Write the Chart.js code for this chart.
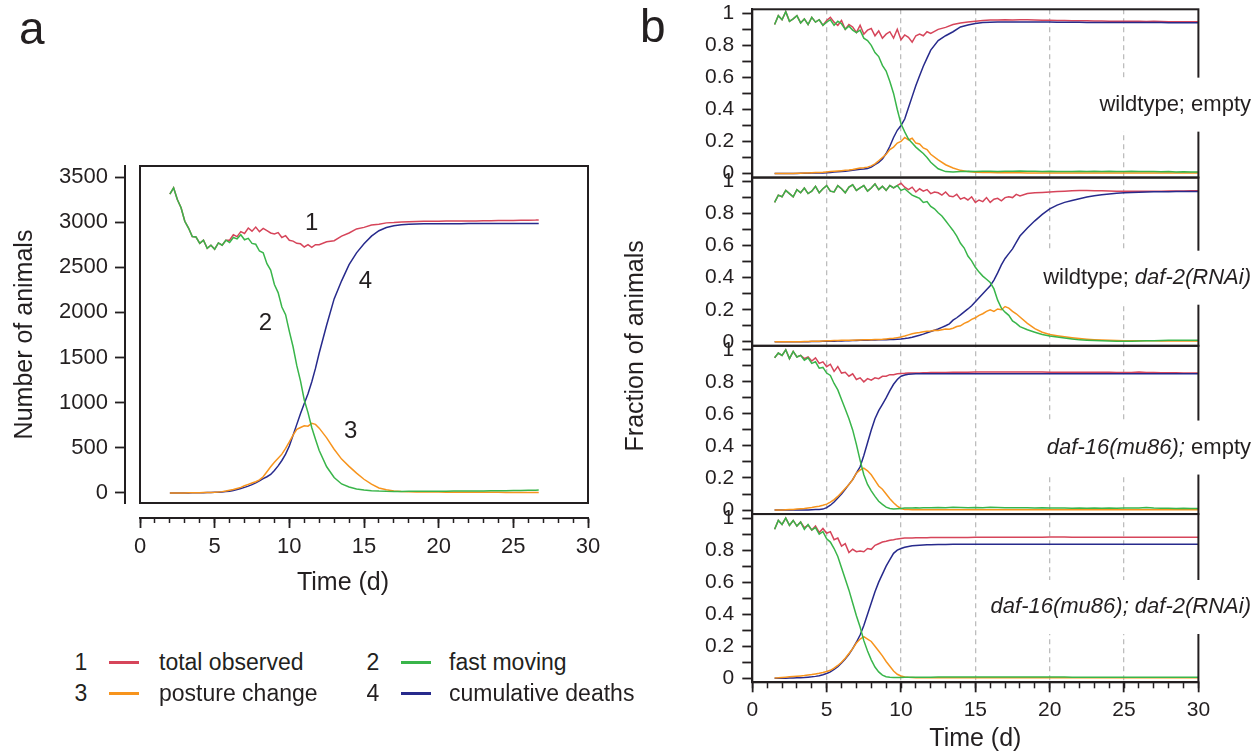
<!DOCTYPE html>
<html>
<head>
<meta charset="utf-8">
<script src="https://cdn.jsdelivr.net/npm/chart.js@4.4.1/dist/chart.umd.min.js"></script>
<style>
  body { margin: 0; background: #fff; width: 1260px; height: 755px; position: relative; overflow: hidden;
         font-family: "Liberation Sans", Arial, Helvetica, sans-serif; color: #231f20; }
  canvas { position: absolute; }
  #chartA { left: 0; top: 0; }
  #chartB { left: 600px; top: 0; }
  .tag { position: absolute; font-size: 46px; line-height: 1; }
  .lg { position: absolute; font-size: 23px; line-height: 30px; white-space: nowrap; }
  .num { width: 16px; text-align: center; }
  .sw { position: absolute; width: 30px; height: 3px; }
</style>
</head>
<body>
<canvas id="chartA" width="620" height="620"></canvas>
<canvas id="chartB" width="660" height="755"></canvas>

<div class="tag" style="left:19px; top:5px;">a</div>
<div class="tag" style="left:640px; top:3px;">b</div>

<div class="lg num" style="left:73px; top:647px;">1</div>
<div class="sw" style="left:109px; top:661px; background:#d6455a;"></div>
<div class="lg" style="left:159px; top:647px;">total observed</div>
<div class="lg num" style="left:365px; top:647px;">2</div>
<div class="sw" style="left:401px; top:661px; background:#39b54a;"></div>
<div class="lg" style="left:449px; top:647px;">fast moving</div>
<div class="lg num" style="left:73px; top:678px;">3</div>
<div class="sw" style="left:109px; top:692px; background:#f7941d;"></div>
<div class="lg" style="left:159px; top:678px;">posture change</div>
<div class="lg num" style="left:365px; top:678px;">4</div>
<div class="sw" style="left:401px; top:692px; background:#272a8c;"></div>
<div class="lg" style="left:449px; top:678px;">cumulative deaths</div>

<script>
// ---- panel a: counts ----
const tA = [
  2, 2.25, 2.5, 2.75, 3, 3.25, 3.5, 3.75,
  4, 4.25, 4.5, 4.75, 5, 5.25, 5.5, 5.75,
  6, 6.25, 6.5, 6.75, 7, 7.25, 7.5, 7.75,
  8, 8.25, 8.5, 8.75, 9, 9.25, 9.5, 9.75,
  10, 10.25, 10.5, 10.75, 11, 11.25, 11.5, 11.75,
  12, 12.5, 13, 13.5, 14, 14.5, 15, 15.5,
  16, 16.5, 17, 17.5, 18, 18.5, 19, 19.5,
  20, 20.5, 21, 21.5, 22, 22.5, 23, 23.5,
  24, 24.5, 25, 25.5, 26, 26.5, 26.7
];
const totalA = [
  3310, 3380, 3250, 3160, 3010, 2935, 2840, 2835,
  2765, 2800, 2710, 2745, 2700, 2770, 2745, 2800,
  2800, 2860, 2840, 2895, 2875, 2935, 2900, 2945,
  2895, 2930, 2905, 2880, 2870, 2885, 2830, 2850,
  2800, 2790, 2765, 2760, 2725, 2750, 2720, 2750,
  2750, 2782, 2795, 2845, 2880, 2925, 2942, 2968,
  2978, 2992, 2995, 3003, 3005, 3008, 3010, 3010,
  3011, 3012, 3012, 3013, 3013, 3014, 3015, 3016,
  3017, 3018, 3019, 3020, 3021, 3023, 3025
];
const fastA = [
  3310, 3380, 3250, 3160, 3010, 2935, 2840, 2835,
  2765, 2800, 2710, 2745, 2700, 2770, 2745, 2800,
  2775, 2830, 2815, 2860, 2805, 2820, 2765, 2755,
  2680, 2660, 2540, 2470, 2310, 2220, 2060, 1975,
  1790, 1620, 1410, 1240, 1030, 890, 725, 595,
  470, 290, 172, 100, 66, 45, 33, 26,
  21, 18, 17, 17, 18, 18, 19, 19,
  20, 20, 21, 21, 22, 23, 23, 24,
  25, 26, 27, 28, 29, 31, 32
];
const postureA = [
  0, 0, 1, 1, 1, 2, 2, 3,
  3, 4, 5, 6, 8, 11, 15, 22,
  30, 38, 50, 62, 80, 95, 110, 125,
  145, 180, 235, 290, 340, 385, 430, 495,
  565, 640, 705, 725, 745, 740, 772, 760,
  718, 610, 485, 375, 295, 220, 152, 97,
  55, 35, 22, 16, 13, 12, 11, 10,
  10, 9, 9, 8, 8, 8, 7, 7,
  7, 6, 6, 6, 6, 6, 6
];
const deathsA = [
  0, 0, 0, 1, 1, 1, 2, 2,
  3, 3, 4, 5, 7, 9, 12, 16,
  20, 28, 38, 50, 62, 76, 92, 112,
  135, 158, 180, 205, 250, 300, 360, 430,
  520, 640, 760, 880, 990, 1100, 1230, 1380,
  1550, 1860, 2150, 2350, 2530, 2660, 2760, 2845,
  2905, 2940, 2960, 2972, 2977, 2980, 2981, 2982,
  2982, 2983, 2983, 2983, 2984, 2984, 2984, 2984,
  2985, 2985, 2985, 2985, 2985, 2985, 2985
];
const countTicks = [0, 500, 1000, 1500, 2000, 2500, 3000, 3500];
const dayTicks = [0, 5, 10, 15, 20, 25, 30];
const dayMinorTicks = [0, 1, 2, 3, 4, 5, 6, 7, 8, 9, 10, 11, 12, 13, 14, 15,
  16, 17, 18, 19, 20, 21, 22, 23, 24, 25, 26, 27, 28, 29, 30];
const curveTags = ['1', '2', '3', '4'];
const tagDays = [11.5, 8.4, 14.1, 15.1];
const tagCounts = [2985, 1875, 680, 2340];

// ---- panel b: fractions ----
const tB = [
  1.5, 1.75, 2, 2.25, 2.5, 2.75, 3, 3.25,
  3.5, 3.75, 4, 4.25, 4.5, 4.75, 5, 5.25,
  5.5, 5.75, 6, 6.25, 6.5, 6.75, 7, 7.25,
  7.5, 7.75, 8, 8.25, 8.5, 8.75, 9, 9.25,
  9.5, 9.75, 10, 10.25, 10.5, 10.75, 11, 11.25,
  11.5, 11.75, 12, 12.5, 13, 13.5, 14, 14.5,
  15, 15.5, 16, 16.5, 17, 17.5, 18, 18.5,
  19, 19.5, 20, 20.5, 21, 21.5, 22, 22.5,
  23, 23.5, 24, 24.5, 25, 25.5, 26, 26.5,
  27, 27.5, 28, 28.5, 29, 29.5, 30
];
const tB2 = [
  1.5, 1.75, 2, 2.25, 2.5, 2.75, 3, 3.25,
  3.5, 3.75, 4, 4.25, 4.5, 4.75, 5, 5.25,
  5.5, 5.75, 6, 6.25, 6.5, 6.75, 7, 7.25,
  7.5, 7.75, 8, 8.25, 8.5, 8.75, 9, 9.25,
  9.5, 9.75, 10, 10.25, 10.5, 10.75, 11, 11.25,
  11.5, 11.75, 12, 12.25, 12.5, 12.75, 13, 13.25,
  13.5, 13.75, 14, 14.25, 14.5, 14.75, 15, 15.25,
  15.5, 15.75, 16, 16.25, 16.5, 16.75, 17, 17.25,
  17.5, 17.75, 18, 18.5, 19, 19.5, 20, 20.5,
  21, 21.5, 22, 22.5, 23, 23.5, 24, 24.5,
  25, 25.5, 26, 26.5, 27, 27.5, 28, 28.5,
  29, 29.5, 30
];

// wildtype; empty
const totalB1 = [
  0.93, 0.985, 0.96, 1.01, 0.95, 0.965, 0.985, 0.94,
  0.965, 0.93, 0.975, 0.945, 0.96, 0.925, 0.955, 0.975,
  0.945, 0.925, 0.955, 0.9, 0.93, 0.915, 0.88, 0.925,
  0.87, 0.895, 0.905, 0.86, 0.89, 0.845, 0.87, 0.885,
  0.845, 0.9, 0.835, 0.865, 0.85, 0.82, 0.86, 0.87,
  0.86, 0.885, 0.875, 0.9, 0.912, 0.93, 0.94, 0.945,
  0.95, 0.955, 0.958, 0.958, 0.96, 0.958, 0.96, 0.96,
  0.958, 0.957, 0.956, 0.955, 0.955, 0.954, 0.953, 0.953,
  0.952, 0.952, 0.951, 0.951, 0.95, 0.95, 0.95, 0.949,
  0.95, 0.949, 0.948, 0.948, 0.948, 0.947, 0.947
];
const fastB1 = [
  0.93, 0.985, 0.96, 1.01, 0.95, 0.965, 0.985, 0.94,
  0.965, 0.93, 0.975, 0.945, 0.96, 0.925, 0.945, 0.96,
  0.925, 0.95, 0.935, 0.9, 0.92, 0.895, 0.88, 0.895,
  0.845, 0.83, 0.8, 0.755, 0.73, 0.675, 0.64, 0.575,
  0.5, 0.4, 0.31, 0.26, 0.215, 0.19, 0.165, 0.145,
  0.125, 0.1, 0.07, 0.03, 0.012, 0.01, 0.013, 0.014,
  0.012, 0.015, 0.014, 0.013, 0.015, 0.014, 0.016, 0.015,
  0.014, 0.013, 0.014, 0.012, 0.013, 0.012, 0.014, 0.013,
  0.015, 0.013, 0.014, 0.012, 0.013, 0.014, 0.012, 0.013,
  0.012, 0.011, 0.012, 0.01, 0.011, 0.01, 0.01
];
const postureB1 = [
  0, 0, 0, 0, 0.001, 0.001, 0.002, 0.002,
  0.003, 0.004, 0.005, 0.006, 0.007, 0.008, 0.01, 0.012,
  0.014, 0.016, 0.018, 0.02, 0.022, 0.025, 0.03, 0.034,
  0.036, 0.04, 0.048, 0.06, 0.08, 0.1, 0.12, 0.15,
  0.165, 0.19, 0.2, 0.225, 0.21, 0.22, 0.19, 0.185,
  0.16, 0.15, 0.12, 0.085, 0.055, 0.035, 0.02, 0.012,
  0.008, 0.006, 0.006, 0.005, 0.005, 0.005, 0.005, 0.004,
  0.004, 0.004, 0.004, 0.004, 0.004, 0.003, 0.003, 0.003,
  0.003, 0.003, 0.003, 0.003, 0.003, 0.003, 0.003, 0.003,
  0.003, 0.003, 0.003, 0.003, 0.003, 0.003, 0.003
];
const deathsB1 = [
  0, 0, 0, 0, 0.001, 0.001, 0.001, 0.002,
  0.002, 0.002, 0.003, 0.003, 0.004, 0.004, 0.005, 0.007,
  0.009, 0.011, 0.013, 0.015, 0.018, 0.021, 0.024, 0.027,
  0.029, 0.032, 0.04, 0.055, 0.07, 0.09, 0.125, 0.17,
  0.225, 0.27, 0.3, 0.34, 0.41, 0.48, 0.55, 0.61,
  0.67, 0.72, 0.77, 0.83, 0.86, 0.885, 0.915, 0.927,
  0.937, 0.942, 0.944, 0.945, 0.946, 0.946, 0.946, 0.946,
  0.945, 0.945, 0.945, 0.944, 0.944, 0.944, 0.944, 0.943,
  0.943, 0.943, 0.943, 0.943, 0.942, 0.942, 0.942, 0.942,
  0.942, 0.942, 0.941, 0.941, 0.941, 0.941, 0.941
];

// wildtype; daf-2(RNAi)  (on tB2)
const totalB2 = [
  0.87, 0.915, 0.905, 0.945, 0.925, 0.905, 0.95, 0.93,
  0.96, 0.925, 0.94, 0.97, 0.93, 0.955, 0.975, 0.94,
  0.935, 0.975, 0.955, 0.93, 0.965, 0.98, 0.945, 0.96,
  0.975, 0.94, 0.96, 0.985, 0.95, 0.97, 0.945, 0.975,
  0.96, 0.975, 0.99, 0.965, 0.95, 0.965, 0.935, 0.955,
  0.94, 0.95, 0.925, 0.935, 0.93, 0.915, 0.935, 0.91,
  0.905, 0.92, 0.89, 0.9, 0.885, 0.905, 0.87, 0.885,
  0.875, 0.9, 0.87, 0.89, 0.895, 0.88, 0.9, 0.905,
  0.9, 0.92, 0.91, 0.925, 0.93, 0.932, 0.935, 0.938,
  0.94, 0.942, 0.944, 0.944, 0.943, 0.942, 0.941, 0.94,
  0.939, 0.939, 0.94, 0.94, 0.94, 0.94, 0.941, 0.941,
  0.941, 0.942, 0.942
];
const fastB2 = [
  0.87, 0.915, 0.905, 0.945, 0.925, 0.905, 0.95, 0.93,
  0.96, 0.925, 0.94, 0.97, 0.93, 0.955, 0.975, 0.94,
  0.935, 0.975, 0.955, 0.93, 0.965, 0.98, 0.945, 0.96,
  0.975, 0.94, 0.96, 0.985, 0.95, 0.97, 0.945, 0.975,
  0.96, 0.975, 0.945, 0.955, 0.935, 0.915, 0.905, 0.895,
  0.87, 0.875, 0.845, 0.83, 0.805, 0.785, 0.755, 0.725,
  0.695, 0.66, 0.615, 0.585, 0.535, 0.505, 0.465, 0.435,
  0.41, 0.39, 0.37, 0.33, 0.26, 0.21, 0.185, 0.165,
  0.13, 0.115, 0.095, 0.075, 0.06, 0.045, 0.036, 0.03,
  0.024, 0.018, 0.012, 0.01, 0.008, 0.006, 0.005, 0.004,
  0.004, 0.004, 0.005, 0.006, 0.007, 0.008, 0.009, 0.009,
  0.01, 0.01, 0.01
];
const postureB2 = [
  0, 0, 0, 0, 0, 0.001, 0.001, 0.001,
  0.002, 0.002, 0.003, 0.003, 0.004, 0.005, 0.006, 0.007,
  0.008, 0.008, 0.009, 0.009, 0.01, 0.01, 0.011, 0.011,
  0.012, 0.012, 0.013, 0.014, 0.015, 0.016, 0.018, 0.02,
  0.022, 0.026, 0.03, 0.036, 0.043, 0.05, 0.055, 0.058,
  0.062, 0.066, 0.068, 0.072, 0.07, 0.075, 0.08, 0.078,
  0.085, 0.095, 0.1, 0.115, 0.125, 0.14, 0.15, 0.165,
  0.175, 0.19, 0.2, 0.19, 0.205, 0.2, 0.22, 0.21,
  0.19, 0.175, 0.155, 0.115, 0.082, 0.06, 0.046, 0.038,
  0.031, 0.025, 0.02, 0.016, 0.013, 0.011, 0.009, 0.008,
  0.007, 0.007, 0.006, 0.006, 0.006, 0.005, 0.005, 0.005,
  0.005, 0.005, 0.005
];
const deathsB2 = [
  0, 0, 0, 0, 0, 0, 0.001, 0.001,
  0.001, 0.001, 0.002, 0.002, 0.002, 0.003, 0.003, 0.004,
  0.004, 0.005, 0.005, 0.006, 0.007, 0.008, 0.008, 0.009,
  0.01, 0.01, 0.011, 0.011, 0.012, 0.013, 0.013, 0.014,
  0.015, 0.016, 0.017, 0.02, 0.024, 0.029, 0.035, 0.041,
  0.048, 0.056, 0.064, 0.072, 0.08, 0.09, 0.1, 0.112,
  0.135, 0.15, 0.168, 0.187, 0.205, 0.225, 0.25, 0.275,
  0.3, 0.325, 0.35, 0.385, 0.43, 0.48, 0.52, 0.55,
  0.58, 0.62, 0.66, 0.71, 0.755, 0.795, 0.83, 0.853,
  0.87, 0.882, 0.893, 0.903, 0.912, 0.918, 0.923, 0.927,
  0.93, 0.932, 0.934, 0.935, 0.936, 0.937, 0.937, 0.938,
  0.938, 0.938, 0.938
];

// daf-16(mu86); empty
const totalB3 = [
  0.95, 0.98, 0.965, 1.0, 0.945, 0.99, 0.955, 0.965,
  0.945, 0.955, 0.93, 0.95, 0.915, 0.925, 0.895, 0.91,
  0.865, 0.895, 0.855, 0.86, 0.835, 0.85, 0.815, 0.825,
  0.8, 0.82, 0.81, 0.825, 0.82, 0.835, 0.835, 0.845,
  0.845, 0.85, 0.852, 0.853, 0.855, 0.855, 0.856, 0.856,
  0.857, 0.857, 0.858, 0.858, 0.859, 0.86, 0.86, 0.86,
  0.861, 0.861, 0.861, 0.862, 0.862, 0.862, 0.861, 0.861,
  0.861, 0.861, 0.86, 0.86, 0.86, 0.86, 0.86, 0.86,
  0.86, 0.86, 0.86, 0.859, 0.859, 0.859, 0.862, 0.858,
  0.858, 0.857, 0.857, 0.857, 0.856, 0.856, 0.856
];
const fastB3 = [
  0.95, 0.98, 0.965, 1.0, 0.945, 0.99, 0.955, 0.965,
  0.935, 0.95, 0.915, 0.925, 0.885, 0.89, 0.855, 0.84,
  0.79, 0.75, 0.69, 0.63, 0.57, 0.5, 0.41, 0.31,
  0.22, 0.16, 0.12, 0.085, 0.055, 0.035, 0.018, 0.01,
  0.006, 0.008, 0.01, 0.012, 0.013, 0.012, 0.014, 0.013,
  0.014, 0.015, 0.014, 0.016, 0.015, 0.017, 0.016, 0.015,
  0.016, 0.015, 0.017, 0.016, 0.015, 0.014, 0.015, 0.014,
  0.013, 0.014, 0.012, 0.013, 0.012, 0.011, 0.012, 0.011,
  0.012, 0.011, 0.012, 0.011, 0.012, 0.013, 0.012, 0.016,
  0.012, 0.011, 0.011, 0.01, 0.011, 0.01, 0.01
];
const postureB3 = [
  0, 0.001, 0.001, 0.002, 0.003, 0.004, 0.006, 0.008,
  0.01, 0.013, 0.016, 0.02, 0.024, 0.03, 0.037, 0.05,
  0.065, 0.085, 0.11, 0.135, 0.16, 0.19, 0.23, 0.25,
  0.262, 0.245, 0.22, 0.185, 0.15, 0.13, 0.1, 0.07,
  0.045, 0.025, 0.01, 0.004, 0.003, 0.002, 0.002, 0.002,
  0.002, 0.002, 0.002, 0.002, 0.002, 0.002, 0.002, 0.002,
  0.002, 0.002, 0.002, 0.002, 0.002, 0.002, 0.002, 0.002,
  0.002, 0.002, 0.002, 0.002, 0.002, 0.002, 0.002, 0.002,
  0.002, 0.002, 0.002, 0.002, 0.002, 0.002, 0.002, 0.002,
  0.002, 0.002, 0.002, 0.002, 0.002, 0.002, 0.002
];
const deathsB3 = [
  0, 0, 0, 0, 0, 0, 0, 0.001,
  0.001, 0.001, 0.002, 0.003, 0.004, 0.006, 0.015, 0.03,
  0.05, 0.075, 0.1, 0.13, 0.16, 0.19, 0.23, 0.27,
  0.34, 0.42, 0.5, 0.57, 0.62, 0.66, 0.7, 0.745,
  0.785, 0.815, 0.835, 0.843, 0.847, 0.849, 0.85, 0.85,
  0.85, 0.851, 0.851, 0.851, 0.851, 0.851, 0.851, 0.851,
  0.851, 0.851, 0.851, 0.851, 0.851, 0.851, 0.851, 0.851,
  0.851, 0.851, 0.851, 0.851, 0.851, 0.851, 0.851, 0.851,
  0.851, 0.851, 0.851, 0.851, 0.851, 0.851, 0.851, 0.851,
  0.851, 0.851, 0.851, 0.851, 0.851, 0.851, 0.851
];

// daf-16(mu86); daf-2(RNAi)
const totalB4 = [
  0.93, 0.985, 0.96, 1.0, 0.955, 0.985, 0.95, 0.975,
  0.94, 0.955, 0.925, 0.95, 0.91, 0.935, 0.905, 0.915,
  0.865, 0.875, 0.825, 0.84, 0.785, 0.805, 0.79, 0.795,
  0.79, 0.81, 0.805, 0.83, 0.84, 0.85, 0.855, 0.862,
  0.865, 0.87, 0.873, 0.875, 0.876, 0.876, 0.877, 0.877,
  0.877, 0.877, 0.878, 0.878, 0.878, 0.879, 0.879, 0.879,
  0.88, 0.88, 0.88, 0.88, 0.88, 0.88, 0.88, 0.88,
  0.88, 0.88, 0.881, 0.881, 0.881, 0.88, 0.88, 0.88,
  0.88, 0.88, 0.88, 0.88, 0.88, 0.88, 0.88, 0.88,
  0.88, 0.88, 0.88, 0.88, 0.88, 0.88, 0.88
];
const fastB4 = [
  0.93, 0.985, 0.96, 1.0, 0.955, 0.985, 0.95, 0.975,
  0.93, 0.96, 0.925, 0.94, 0.9, 0.915, 0.87, 0.85,
  0.81, 0.76, 0.69, 0.62, 0.55, 0.47, 0.39, 0.32,
  0.235, 0.17, 0.115, 0.07, 0.04, 0.02, 0.01, 0.006,
  0.005, 0.005, 0.005, 0.006, 0.006, 0.006, 0.007, 0.007,
  0.007, 0.007, 0.007, 0.008, 0.008, 0.008, 0.008, 0.008,
  0.008, 0.008, 0.008, 0.008, 0.008, 0.008, 0.008, 0.008,
  0.008, 0.008, 0.008, 0.008, 0.008, 0.007, 0.007, 0.007,
  0.007, 0.007, 0.007, 0.007, 0.007, 0.007, 0.007, 0.006,
  0.006, 0.006, 0.006, 0.006, 0.006, 0.006, 0.006
];
const postureB4 = [
  0.002, 0.003, 0.005, 0.007, 0.009, 0.011, 0.013, 0.015,
  0.017, 0.02, 0.023, 0.027, 0.031, 0.036, 0.042, 0.05,
  0.063, 0.08, 0.1, 0.125, 0.155, 0.185, 0.22, 0.245,
  0.26, 0.245, 0.23, 0.2, 0.17, 0.14, 0.105, 0.075,
  0.045, 0.025, 0.014, 0.008, 0.006, 0.005, 0.004, 0.004,
  0.004, 0.004, 0.004, 0.004, 0.004, 0.004, 0.004, 0.004,
  0.004, 0.004, 0.004, 0.004, 0.004, 0.004, 0.004, 0.004,
  0.004, 0.004, 0.004, 0.004, 0.004, 0.004, 0.004, 0.004,
  0.004, 0.004, 0.004, 0.004, 0.004, 0.004, 0.004, 0.004,
  0.004, 0.004, 0.004, 0.004, 0.004, 0.004, 0.004
];
const deathsB4 = [
  0, 0, 0.001, 0.001, 0.002, 0.002, 0.003, 0.004,
  0.005, 0.007, 0.009, 0.012, 0.016, 0.022, 0.03, 0.04,
  0.055, 0.072, 0.095, 0.12, 0.15, 0.185, 0.225, 0.27,
  0.33, 0.4, 0.47, 0.54, 0.6, 0.65, 0.7, 0.74,
  0.78, 0.8, 0.81, 0.818, 0.823, 0.827, 0.829, 0.831,
  0.832, 0.833, 0.834, 0.835, 0.835, 0.836, 0.836, 0.836,
  0.836, 0.836, 0.836, 0.836, 0.836, 0.836, 0.836, 0.836,
  0.836, 0.836, 0.836, 0.836, 0.836, 0.836, 0.836, 0.836,
  0.836, 0.836, 0.836, 0.836, 0.836, 0.836, 0.836, 0.836,
  0.836, 0.836, 0.836, 0.836, 0.836, 0.836, 0.836
];

const fracTicks = [0, 0.1, 0.2, 0.3, 0.4, 0.5, 0.6, 0.7, 0.8, 0.9, 1];
const fracLabels = ['0', '', '0.2', '', '0.4', '', '0.6', '', '0.8', '', '1'];
const panelNames = [
  [['wildtype; empty', false]],
  [['wildtype; ', false], ['daf-2(RNAi)', true]],
  [['daf-16(mu86);', true], [' empty', false]],
  [['daf-16(mu86); daf-2(RNAi)', true]]
];
const nameLevels = [0.43, 0.40, 0.39, 0.445];

// ---- drawing ----
const ink = '#231f20';
const red = '#d6455a', green = '#39b54a', orange = '#f7941d', blue = '#272a8c';
const family = '"Liberation Sans", Arial, Helvetica, sans-serif';
Chart.defaults.font.family = family;
Chart.defaults.color = ink;
Chart.defaults.animation = false;

function pts(times, vals) {
  return times.map((t, i) => ({x: t, y: vals[i]}));
}
function line(times, vals, color, axis) {
  return {data: pts(times, vals), borderColor: color, borderWidth: 1.5, pointRadius: 0,
          tension: 0, fill: false, xAxisID: 'x', yAxisID: axis};
}
function fourLines(times, fast, posture, deaths, total, axis) {
  // first in list is painted last
  return [line(times, fast, green, axis), line(times, posture, orange, axis),
          line(times, deaths, blue, axis), line(times, total, red, axis)];
}
function setTicks(list) {
  return s => { s.ticks = list.map(v => ({value: v})); };
}

const panelA = {
  id: 'panelA',
  afterLayout(chart) {
    // R style: axes stand off from the box
    const a = chart.chartArea, s = chart.scales;
    s.y.right = a.left - 15;
    s.x.top = a.bottom + 15;
    s.xm.top = a.bottom + 15;
    s.xm.bottom = 598;
    s.xm.left = a.left - 42;
  },
  afterDatasetsDraw(chart) {
    const {ctx, chartArea: a, scales} = chart;
    ctx.save();
    ctx.lineWidth = 2;
    ctx.strokeStyle = ink;
    ctx.strokeRect(a.left, a.top, a.right - a.left, a.bottom - a.top);
    ctx.fillStyle = ink;
    ctx.font = '24px ' + family;
    ctx.textAlign = 'center';
    ctx.textBaseline = 'middle';
    curveTags.forEach((tag, i) => {
      ctx.fillText(tag, scales.x.getPixelForValue(tagDays[i]), scales.y.getPixelForValue(tagCounts[i]));
    });
    ctx.restore();
  }
};

new Chart(document.getElementById('chartA'), {
  type: 'line',
  data: {datasets: fourLines(tA, fastA, postureA, deathsA, totalA, 'y')},
  options: {
    responsive: false,
    layout: {padding: {left: 0, top: 166, right: 32, bottom: 17}, autoPadding: false},
    plugins: {legend: {display: false}, tooltip: {enabled: false}},
    scales: {
      x: {
        type: 'linear', position: 'bottom', min: 0, max: 30, bounds: 'data',
        afterBuildTicks: setTicks(dayTicks),
        afterFit: s => { s.height = 100; },
        grid: {drawOnChartArea: false, tickLength: 10, tickWidth: 1.8, tickColor: ink},
        border: {display: true, color: ink, width: 2},
        ticks: {autoSkip: false, padding: 6, font: {size: 22}, callback: v => String(v)}
      },
      xm: {
        type: 'linear', position: 'bottom', min: 0, max: 30, bounds: 'data',
        afterBuildTicks: setTicks(dayMinorTicks),
        afterFit: s => { s.height = 0; },
        grid: {drawOnChartArea: false, tickLength: 5, tickWidth: 1.5, tickColor: ink},
        border: {display: false},
        ticks: {display: false, autoSkip: false},
        title: {display: true, text: 'Time (d)', font: {size: 25}, padding: {top: 0, bottom: 0}}
      },
      y: {
        type: 'linear', position: 'left', min: -111, max: 3622, bounds: 'data',
        afterBuildTicks: setTicks(countTicks),
        afterFit: s => { s.width = 140; },
        grid: {drawOnChartArea: false, tickLength: 10, tickWidth: 1.8, tickColor: ink},
        border: {display: true, color: ink, width: 2},
        ticks: {autoSkip: false, padding: 7, font: {size: 22}, callback: v => String(v)},
        title: {display: true, text: 'Number of animals', font: {size: 25}, padding: {top: 10, bottom: 0}}
      }
    }
  },
  plugins: [panelA]
});

const panelAxes = ['y1', 'y2', 'y3', 'y4'];

const panelB = {
  id: 'panelB',
  afterLayout(chart) {
    const a = chart.chartArea, s = chart.scales;
    s.x.top = a.bottom;
    s.x.bottom = a.bottom + 72;
    s.xm.top = a.bottom;
    s.xm.bottom = a.bottom;
  },
  afterDatasetsDraw(chart) {
    const {ctx, chartArea: a} = chart;
    ctx.save();
    ctx.lineWidth = 2;
    ctx.strokeStyle = ink;
    panelAxes.forEach((id, i) => {
      const s = chart.scales[id];
      ctx.strokeRect(a.left, s.top, a.right - a.left, s.bottom - s.top);
    });
    ctx.textBaseline = 'middle';
    panelAxes.forEach((id, i) => {
      const s = chart.scales[id];
      const yc = s.getPixelForValue(nameLevels[i]);
      const parts = panelNames[i];
      let w = 0;
      parts.forEach(([txt, it]) => {
        ctx.font = (it ? 'italic ' : '') + '22px ' + family;
        w += ctx.measureText(txt).width;
      });
      let x = 651 - w;
      ctx.fillStyle = '#fff';
      ctx.fillRect(x - 7, yc - 27, chart.width - x + 7, 54);
      ctx.fillStyle = ink;
      parts.forEach(([txt, it]) => {
        ctx.font = (it ? 'italic ' : '') + '22px ' + family;
        ctx.fillText(txt, x, yc);
        x += ctx.measureText(txt).width;
      });
    });
    ctx.restore();
  }
};

function fracAxis(weight) {
  return {
    type: 'linear', position: 'left', stack: 'b', stackWeight: 1, weight: weight,
    min: -0.025, max: 1.025, bounds: 'data',
    afterBuildTicks: setTicks(fracTicks),
    afterFit: s => { s.width = 82.3; s.paddingTop = 0; s.paddingBottom = 0; },
    grid: {drawOnChartArea: false, tickLength: 10, tickWidth: 1.8, tickColor: ink},
    border: {display: true, color: ink, width: 2},
    ticks: {autoSkip: false, padding: 8, font: {size: 21}, callback: (v, i) => fracLabels[i]}
  };
}

new Chart(document.getElementById('chartB'), {
  type: 'line',
  data: {datasets: [].concat(
    fourLines(tB, fastB1, postureB1, deathsB1, totalB1, 'y1'),
    fourLines(tB2, fastB2, postureB2, deathsB2, totalB2, 'y2'),
    fourLines(tB, fastB3, postureB3, deathsB3, totalB3, 'y3'),
    fourLines(tB, fastB4, postureB4, deathsB4, totalB4, 'y4')
  )},
  options: {
    responsive: false,
    layout: {padding: {left: 0, top: 9.3, right: 61.6, bottom: 0.7}, autoPadding: false},
    plugins: {legend: {display: false}, tooltip: {enabled: false}},
    scales: {
      x: {
        type: 'linear', position: 'bottom', min: 0, max: 30, bounds: 'data',
        afterBuildTicks: setTicks(dayTicks),
        afterFit: s => { s.height = 72; },
        grid: {
          drawOnChartArea: true, lineWidth: 1.3,
          color: c => (c.tick && (c.tick.value === 0 || c.tick.value === 30)) ? 'rgba(0,0,0,0)' : '#bdbdbd',
          tickLength: 10, tickWidth: 1.8, tickColor: ink
        },
        border: {display: true, color: ink, width: 2, dash: [5, 4]},
        ticks: {autoSkip: false, padding: 5, font: {size: 21}, callback: v => String(v)},
        title: {display: true, text: 'Time (d)', font: {size: 25}, padding: {top: 0, bottom: 0}}
      },
      xm: {
        type: 'linear', position: 'bottom', min: 0, max: 30, bounds: 'data',
        afterBuildTicks: setTicks(dayMinorTicks),
        afterFit: s => { s.height = 0; },
        grid: {drawOnChartArea: false, tickLength: 6, tickWidth: 1.5, tickColor: ink},
        border: {display: false},
        ticks: {display: false, autoSkip: false}
      },
      yt: {
        type: 'linear', position: 'left', weight: 10,
        afterFit: s => { s.width = 70; },
        grid: {display: false},
        border: {display: false},
        ticks: {display: false},
        title: {display: true, text: 'Fraction of animals', font: {size: 25}, padding: {top: 21, bottom: 0}}
      },
      y1: fracAxis(4),
      y2: fracAxis(3),
      y3: fracAxis(2),
      y4: fracAxis(1)
    }
  },
  plugins: [panelB]
});
</script>
</body>
</html>
